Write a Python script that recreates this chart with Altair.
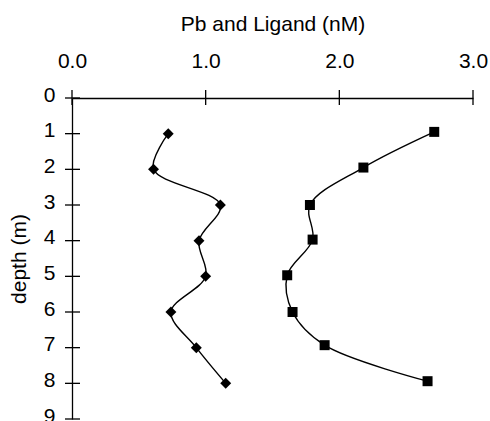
import altair as alt
import pandas as pd

# Data
pb_depth = [1, 2, 3, 4, 5, 6, 7, 8]
pb_conc = [0.72, 0.61, 1.11, 0.95, 1.00, 0.74, 0.93, 1.15]

lig_depth = [0.95, 1.95, 3.0, 3.97, 4.97, 6.0, 6.93, 7.94]
lig_conc = [2.71, 2.18, 1.78, 1.80, 1.61, 1.65, 1.89, 2.66]

x_ticks = [0, 1, 2, 3]
y_ticks = [0, 1, 2, 3, 4, 5, 6, 7, 8, 9]

FONT = "Liberation Sans"
FS = 21

pb = pd.DataFrame({"depth": pb_depth, "conc": pb_conc, "series": "Pb"})
lig = pd.DataFrame({"depth": lig_depth, "conc": lig_conc, "series": "Ligand"})
df = pd.concat([pb, lig], ignore_index=True)

x_scale = alt.Scale(domain=[0, 3], nice=False, zero=False)
y_scale = alt.Scale(domain=[0, 9], reverse=True, nice=False, zero=False)

x_axis = alt.Axis(
    orient="top", values=x_ticks, format=".1f", ticks=False, tickSize=0,
    grid=False, domainColor="black", domainWidth=1.3, labelOverlap=False,
    labelFlush=False,
    labelFont=FONT, labelFontSize=FS, labelColor="black", labelPadding=27,
    title="Pb and Ligand (nM)", titleFont=FONT, titleFontSize=FS,
    titleFontWeight="normal", titleColor="black", titlePadding=16,
)
y_axis = alt.Axis(
    values=y_ticks, format="d", ticks=False, tickSize=0, grid=False,
    domainColor="black", domainWidth=1.3, labelOverlap=False,
    labelFlush=False, labelOffset=-3,
    labelFont=FONT, labelFontSize=FS, labelColor="black", labelPadding=17,
    title="depth (m)", titleFont=FONT, titleFontSize=FS,
    titleFontWeight="normal", titleColor="black", titlePadding=14,
)


def X(field):
    return alt.X(field, scale=x_scale, axis=x_axis)


def Y(field):
    return alt.Y(field, scale=y_scale, axis=y_axis)


lines = alt.Chart(df).mark_line(
    interpolate="catmull-rom", color="black", strokeWidth=1.4
).encode(x=X("conc:Q"), y=Y("depth:Q"), detail="series:N", order="depth:Q")

pb_pts = alt.Chart(pb).mark_point(
    shape="diamond", filled=True, color="black", size=120, opacity=1
).encode(x=X("conc:Q"), y=Y("depth:Q"))

lig_pts = alt.Chart(lig).mark_point(
    shape="square", filled=True, color="black", size=100, opacity=1
).encode(x=X("conc:Q"), y=Y("depth:Q"))

xt = alt.Chart(pd.DataFrame({"conc": x_ticks})).mark_rule(
    color="black", strokeWidth=1.3
).encode(x=X("conc:Q"), y=alt.value(-8), y2=alt.value(7))

yt = alt.Chart(pd.DataFrame({"depth": y_ticks})).mark_rule(
    color="black", strokeWidth=1.3
).encode(y=Y("depth:Q"), x=alt.value(-7), x2=alt.value(8))

chart = alt.layer(lines, xt, yt, pb_pts, lig_pts).properties(
    width=401, height=321,
    autosize=alt.AutoSizeParams(type="none"),
    padding={"left": 72, "top": 98, "right": 17, "bottom": 10},
    background="white",
).configure_view(stroke=None)

chart.save("out.html", embed_options={"renderer": "svg", "actions": False})
